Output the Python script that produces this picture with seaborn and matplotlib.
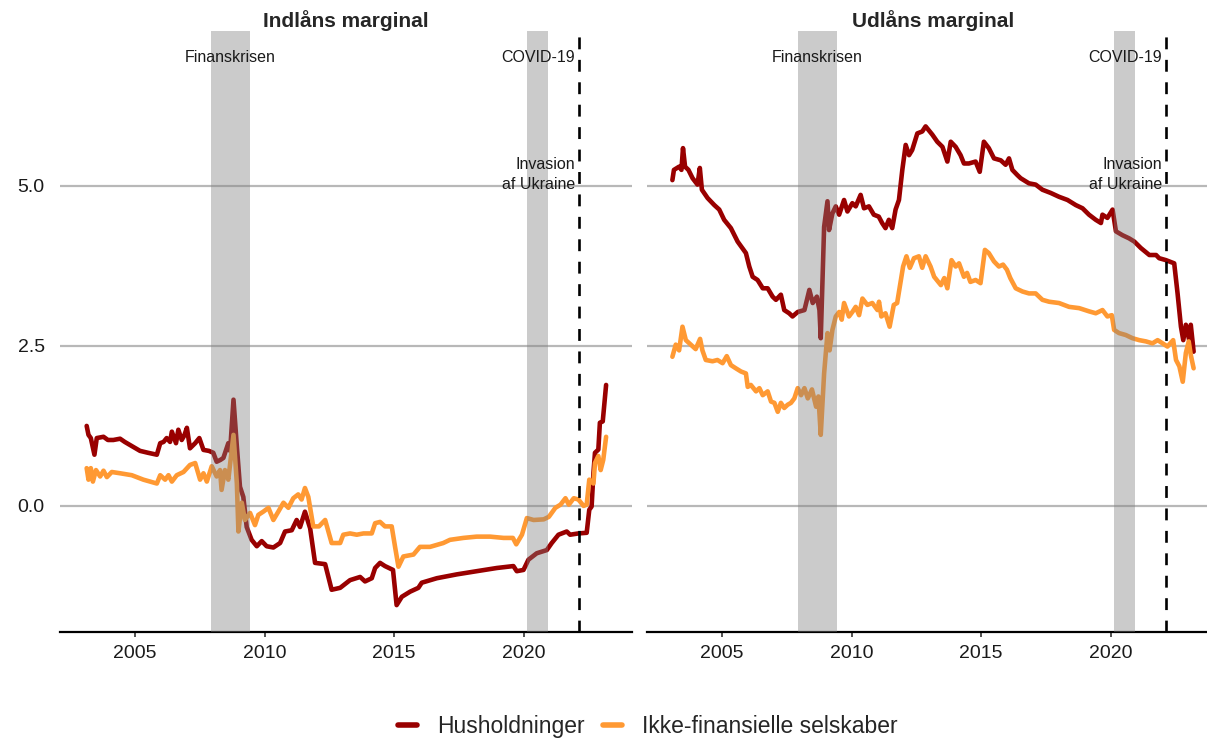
import matplotlib
matplotlib.use("Agg")
import matplotlib.pyplot as plt
from matplotlib.lines import Line2D
import pandas as pd
import seaborn as sns

# --- Indlåns marginal (deposit margin) ---
dep_hh_x = [2003.13, 2003.20, 2003.29, 2003.43, 2003.52, 2003.78, 2003.95, 2004.16, 2004.42, 2004.60,
            2004.81, 2005.19, 2005.50, 2005.84, 2005.97, 2006.10, 2006.22, 2006.35, 2006.42, 2006.58,
            2006.67, 2006.80, 2006.90, 2007.00, 2007.12, 2007.32, 2007.48, 2007.64, 2007.85, 2008.02,
            2008.15, 2008.30, 2008.41, 2008.60, 2008.67, 2008.80, 2008.93, 2009.05, 2009.18, 2009.31,
            2009.50, 2009.70, 2009.89, 2010.08, 2010.34, 2010.60, 2010.79, 2011.05, 2011.24, 2011.37,
            2011.56, 2011.76, 2011.95, 2012.34, 2012.59, 2012.92, 2013.30, 2013.69, 2013.88, 2014.14,
            2014.27, 2014.46, 2014.65, 2014.96, 2015.10, 2015.30, 2015.62, 2015.94, 2016.07, 2016.65,
            2017.42, 2018.19, 2018.97, 2019.61, 2019.74, 2020.00, 2020.19, 2020.51, 2020.90, 2021.09,
            2021.35, 2021.67, 2021.80, 2022.12, 2022.44, 2022.54, 2022.63, 2022.70, 2022.76, 2022.89,
            2022.95, 2023.06, 2023.19]
dep_hh_y = [1.25, 1.11, 1.06, 0.80, 1.06, 1.08, 1.03, 1.03, 1.05, 1.00,
            0.95, 0.86, 0.83, 0.80, 0.98, 1.00, 1.06, 1.00, 1.16, 0.98,
            1.19, 1.03, 1.10, 1.22, 0.90, 0.98, 1.06, 0.875, 0.86, 0.83,
            0.69, 0.72, 0.75, 0.98, 0.86, 1.66, 0.93, 0.30, 0.14, -0.33,
            -0.53, -0.63, -0.55, -0.63, -0.65, -0.58, -0.40, -0.38, -0.22, -0.33,
            -0.09, -0.35, -0.89, -0.91, -1.31, -1.28, -1.16, -1.11, -1.18, -1.13,
            -0.97, -0.89, -0.94, -1.00, -1.55, -1.42, -1.34, -1.28, -1.20, -1.13,
            -1.07, -1.02, -0.97, -0.94, -1.02, -1.00, -0.84, -0.74, -0.69, -0.58,
            -0.45, -0.40, -0.45, -0.43, -0.42, -0.06, -0.01, 0.51, 0.83, 0.88,
            1.30, 1.32, 1.89]

dep_nfc_x = [2003.13, 2003.20, 2003.29, 2003.37, 2003.49, 2003.65, 2003.78, 2003.91, 2004.10, 2004.42,
             2004.87, 2005.32, 2005.84, 2005.97, 2006.16, 2006.29, 2006.42, 2006.61, 2006.87, 2007.12,
             2007.32, 2007.51, 2007.64, 2007.77, 2007.96, 2008.15, 2008.28, 2008.34, 2008.47, 2008.60,
             2008.80, 2008.93, 2008.99, 2009.12, 2009.24, 2009.44, 2009.63, 2009.76, 2009.95, 2010.15,
             2010.34, 2010.53, 2010.73, 2010.92, 2011.11, 2011.30, 2011.43, 2011.56, 2011.69, 2011.88,
             2012.10, 2012.34, 2012.59, 2012.92, 2013.04, 2013.30, 2013.56, 2013.82, 2014.14, 2014.27,
             2014.46, 2014.65, 2014.91, 2015.04, 2015.17, 2015.36, 2015.75, 2016.00, 2016.39, 2016.90,
             2017.16, 2017.68, 2018.19, 2018.71, 2019.23, 2019.59, 2019.72, 2019.94, 2020.13, 2020.39,
             2020.78, 2020.98, 2021.23, 2021.43, 2021.62, 2021.75, 2021.94, 2022.12, 2022.32, 2022.44,
             2022.54, 2022.70, 2022.76, 2022.89, 2022.98, 2023.08, 2023.19]
dep_nfc_y = [0.59, 0.41, 0.59, 0.38, 0.56, 0.46, 0.55, 0.45, 0.53, 0.51,
             0.48, 0.41, 0.35, 0.48, 0.41, 0.48, 0.38, 0.48, 0.53, 0.64,
             0.67, 0.41, 0.51, 0.38, 0.62, 0.46, 0.56, 0.25, 0.56, 0.41,
             1.11, 0.35, -0.40, 0.05, -0.22, -0.11, -0.30, -0.14, -0.09, -0.03,
             -0.22, -0.09, 0.05, -0.03, 0.12, 0.18, 0.10, 0.28, 0.14, -0.32,
             -0.32, -0.22, -0.58, -0.58, -0.45, -0.43, -0.45, -0.43, -0.43, -0.27,
             -0.25, -0.32, -0.32, -0.64, -0.95, -0.79, -0.76, -0.64, -0.64, -0.58,
             -0.53, -0.50, -0.48, -0.48, -0.50, -0.50, -0.60, -0.45, -0.19, -0.22,
             -0.21, -0.17, -0.03, 0.02, 0.12, 0.02, 0.12, 0.10, 0.00, 0.02,
             0.41, 0.35, 0.67, 0.78, 0.56, 0.72, 1.08]

# --- Udlåns marginal (lending margin) ---
lend_hh_x = [2003.08, 2003.14, 2003.34, 2003.43, 2003.49, 2003.57, 2003.70, 2003.86, 2004.05, 2004.14,
             2004.22, 2004.44, 2004.70, 2004.89, 2005.08, 2005.34, 2005.60, 2005.92, 2006.05, 2006.18,
             2006.37, 2006.57, 2006.76, 2006.95, 2007.08, 2007.27, 2007.40, 2007.59, 2007.72, 2007.92,
             2008.18, 2008.37, 2008.50, 2008.66, 2008.76, 2008.81, 2008.94, 2009.07, 2009.13, 2009.26,
             2009.39, 2009.52, 2009.71, 2009.84, 2010.03, 2010.16, 2010.35, 2010.48, 2010.67, 2010.86,
             2011.05, 2011.18, 2011.31, 2011.44, 2011.57, 2011.70, 2011.83, 2011.96, 2012.09, 2012.22,
             2012.34, 2012.54, 2012.73, 2012.86, 2013.12, 2013.31, 2013.51, 2013.70, 2013.83, 2014.02,
             2014.21, 2014.34, 2014.53, 2014.79, 2014.95, 2015.11, 2015.30, 2015.50, 2015.76, 2015.95,
             2016.08, 2016.21, 2016.40, 2016.53, 2016.85, 2017.11, 2017.37, 2017.69, 2018.01, 2018.34,
             2018.66, 2018.92, 2019.17, 2019.43, 2019.63, 2019.69, 2019.88, 2020.08, 2020.21, 2020.46,
             2020.72, 2020.92, 2021.17, 2021.50, 2021.76, 2021.88, 2022.14, 2022.46, 2022.59, 2022.72,
             2022.81, 2022.91, 2023.04, 2023.10, 2023.21]
lend_hh_y = [5.09, 5.25, 5.30, 5.25, 5.59, 5.30, 5.25, 5.12, 5.02, 5.28,
             4.94, 4.81, 4.70, 4.63, 4.47, 4.34, 4.13, 3.95, 3.74, 3.58,
             3.53, 3.40, 3.40, 3.27, 3.22, 3.30, 3.06, 3.01, 2.96, 3.03,
             3.06, 3.375, 3.17, 3.27, 3.06, 2.62, 4.36, 4.76, 4.31, 4.57,
             4.68, 4.55, 4.78, 4.60, 4.73, 4.68, 4.86, 4.65, 4.68, 4.55,
             4.52, 4.42, 4.34, 4.47, 4.34, 4.63, 4.78, 5.25, 5.64, 5.48,
             5.56, 5.82, 5.85, 5.93, 5.80, 5.69, 5.61, 5.38, 5.69, 5.61,
             5.48, 5.35, 5.35, 5.38, 5.22, 5.69, 5.59, 5.43, 5.40, 5.33,
             5.43, 5.25, 5.17, 5.12, 5.04, 5.02, 4.94, 4.89, 4.83, 4.78,
             4.70, 4.65, 4.55, 4.47, 4.42, 4.55, 4.50, 4.63, 4.29, 4.23,
             4.18, 4.13, 4.03, 3.92, 3.92, 3.87, 3.84, 3.79, 3.32, 2.80,
             2.59, 2.83, 2.59, 2.83, 2.41]

lend_nfc_x = [2003.08, 2003.21, 2003.34, 2003.47, 2003.60, 2003.79, 2003.98, 2004.15, 2004.24, 2004.37,
              2004.63, 2004.82, 2005.02, 2005.18, 2005.34, 2005.53, 2005.73, 2005.92, 2005.99, 2006.11,
              2006.31, 2006.44, 2006.57, 2006.76, 2006.89, 2007.02, 2007.15, 2007.27, 2007.40, 2007.53,
              2007.66, 2007.79, 2007.92, 2008.05, 2008.18, 2008.31, 2008.47, 2008.63, 2008.72, 2008.81,
              2008.94, 2009.07, 2009.15, 2009.26, 2009.39, 2009.52, 2009.62, 2009.71, 2009.90, 2010.03,
              2010.16, 2010.29, 2010.42, 2010.61, 2010.80, 2011.00, 2011.06, 2011.15, 2011.31, 2011.47,
              2011.63, 2011.76, 2011.99, 2012.12, 2012.25, 2012.41, 2012.60, 2012.73, 2012.86, 2013.05,
              2013.19, 2013.45, 2013.58, 2013.70, 2013.86, 2014.02, 2014.15, 2014.34, 2014.46, 2014.59,
              2014.79, 2014.98, 2015.15, 2015.30, 2015.50, 2015.69, 2015.85, 2016.00, 2016.13, 2016.34,
              2016.60, 2016.85, 2017.11, 2017.37, 2017.63, 2018.01, 2018.40, 2018.79, 2019.17, 2019.43,
              2019.69, 2019.88, 2020.05, 2020.14, 2020.33, 2020.59, 2020.85, 2021.11, 2021.37, 2021.62,
              2021.82, 2022.01, 2022.20, 2022.42, 2022.53, 2022.66, 2022.79, 2022.91, 2023.02, 2023.10,
              2023.21]
lend_nfc_y = [2.33, 2.52, 2.43, 2.80, 2.59, 2.52, 2.45, 2.61, 2.43, 2.28,
              2.26, 2.28, 2.23, 2.34, 2.20, 2.15, 2.10, 2.07, 1.86, 1.89,
              1.79, 1.84, 1.73, 1.79, 1.63, 1.61, 1.47, 1.61, 1.53, 1.58,
              1.61, 1.68, 1.84, 1.73, 1.84, 1.68, 1.82, 1.55, 1.71, 1.11,
              2.07, 2.70, 2.43, 2.75, 2.96, 3.03, 2.91, 3.17, 2.96, 3.03,
              3.11, 2.98, 3.24, 3.14, 3.17, 3.06, 3.19, 2.96, 3.01, 2.80,
              3.14, 3.17, 3.74, 3.90, 3.72, 3.87, 3.90, 3.72, 3.90, 3.74,
              3.58, 3.45, 3.56, 3.40, 3.84, 3.74, 3.79, 3.58, 3.64, 3.50,
              3.53, 3.48, 4.00, 3.95, 3.82, 3.74, 3.77, 3.69, 3.56, 3.40,
              3.35, 3.32, 3.32, 3.22, 3.19, 3.17, 3.11, 3.09, 3.04, 3.01,
              3.06, 2.96, 2.98, 2.75, 2.70, 2.67, 2.62, 2.59, 2.57, 2.54,
              2.59, 2.54, 2.49, 2.59, 2.28, 2.18, 1.94, 2.39, 2.57, 2.36,
              2.15]

series_names = ["Husholdninger", "Ikke-finansielle selskaber"]
palette = {"Husholdninger": "#990000", "Ikke-finansielle selskaber": "#FF9933"}

crisis_bands = [(2007.92, 2009.42), (2020.12, 2020.96)]
invasion_date = 2022.15
year_ticks = [2005, 2010, 2015, 2020]
value_ticks = [0.0, 2.5, 5.0]


def long_frame(x_hh, y_hh, x_nfc, y_nfc):
    return pd.concat([
        pd.DataFrame({"aar": x_hh, "marginal": y_hh, "serie": series_names[0]}),
        pd.DataFrame({"aar": x_nfc, "marginal": y_nfc, "serie": series_names[1]}),
    ], ignore_index=True)


def draw_panel(ax, df, title, show_y):
    for v in value_ticks:
        ax.axhline(v, color="#B8B8B8", lw=1.6, zorder=1)

    sns.lineplot(data=df, x="aar", y="marginal", hue="serie", palette=palette,
                 estimator=None, linewidth=3.3, legend=False, ax=ax, zorder=3)

    # recession / covid shading on top of the lines
    for start, end in crisis_bands:
        ax.axvspan(start, end, color="#7F7F7F", alpha=0.4, lw=0, zorder=4)
    ax.axvline(invasion_date, color="black", lw=1.9, dashes=(4.5, 4), zorder=5)

    txt = dict(fontsize=11.5, color="#1A1A1A", zorder=6)
    ax.text(sum(crisis_bands[0]) / 2, 7.0, "Finanskrisen", ha="center", va="center", **txt)
    ax.text(invasion_date - 0.17, 7.0, "COVID-19", ha="right", va="center", **txt)
    ax.text(invasion_date - 0.17, 5.18, "Invasion\naf Ukraine", ha="right", va="center",
            linespacing=1.45, multialignment="right", **txt)

    ax.set_xlim(2002.1, 2024.19)
    ax.set_ylim(-1.97, 7.42)
    ax.set_xticks(year_ticks)
    ax.set_xticklabels([str(y) for y in year_ticks])
    ax.set_yticks(value_ticks)
    if show_y:
        ax.set_yticklabels([f"{v:.1f}" for v in value_ticks])
    else:
        ax.set_yticklabels([])
    ax.set_xlabel("")
    ax.set_ylabel("")
    ax.set_title(title, fontsize=15, fontweight="bold", pad=3)

    for side in ["left", "top", "right"]:
        ax.spines[side].set_visible(False)
    ax.spines["bottom"].set_color("black")
    ax.spines["bottom"].set_linewidth(1.6)
    ax.tick_params(axis="x", length=3.5, width=1.2, color="#333333", pad=6,
                   labelsize=14, labelcolor="#1A1A1A", bottom=True)
    ax.tick_params(axis="y", length=0, pad=11, labelsize=14, labelcolor="#1A1A1A")
    ax.grid(False)


sns.set_style("white")
plt.rcParams["font.family"] = ["Liberation Sans", "DejaVu Sans"]

W, H = 1207, 740
fig = plt.figure(figsize=(W / 100, H / 100), dpi=100)
ax_left = fig.add_axes([60 / W, 1 - 632 / H, 572 / W, 601 / H])
ax_right = fig.add_axes([647 / W, 1 - 632 / H, 572 / W, 601 / H])

draw_panel(ax_left, long_frame(dep_hh_x, dep_hh_y, dep_nfc_x, dep_nfc_y),
           "Indlåns marginal", True)
draw_panel(ax_right, long_frame(lend_hh_x, lend_hh_y, lend_nfc_x, lend_nfc_y),
           "Udlåns marginal", False)

handles = [Line2D([], [], color=palette[s], lw=4) for s in series_names]
fig.legend(handles, series_names, loc="center", bbox_to_anchor=(648 / W, 0.018),
           ncol=2, frameon=False, fontsize=16.5, handlelength=0.8,
           handletextpad=0.9, columnspacing=0.8)

fig.savefig("out.png", dpi=100)
